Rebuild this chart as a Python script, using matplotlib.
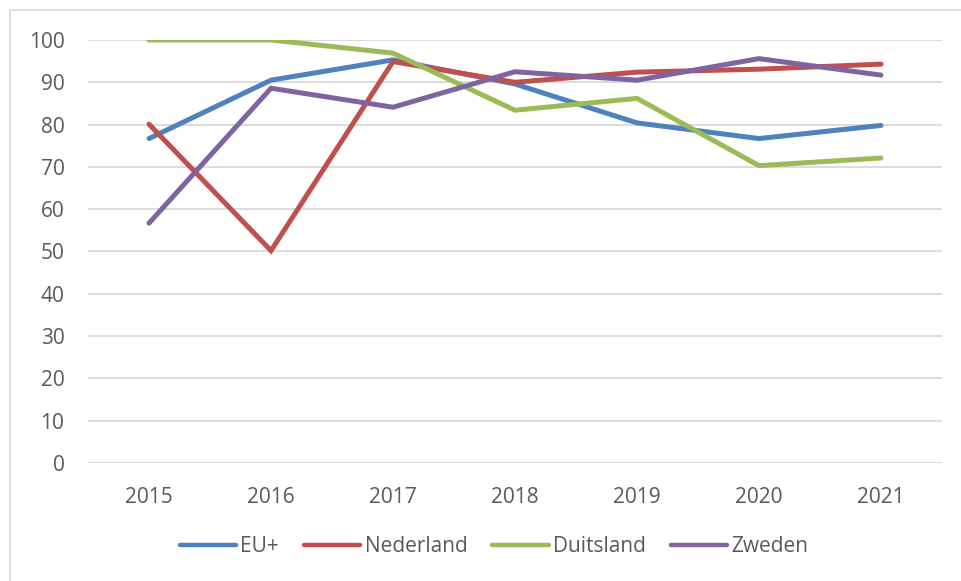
import matplotlib.pyplot as plt
from matplotlib.patches import Rectangle

years = ['2015', '2016', '2017', '2018', '2019', '2020', '2021']
eu_plus = [76.7, 90.5, 95.3, 89.6, 80.4, 76.7, 79.8]
nederland = [80.1, 50.2, 94.9, 90.0, 92.4, 93.1, 94.3]
duitsland = [100, 100, 96.9, 83.4, 86.2, 70.3, 72.1]
zweden = [56.7, 88.6, 84.1, 92.5, 90.5, 95.6, 91.7]

series = [('EU+', eu_plus, '#4F81BD'),
          ('Nederland', nederland, '#C0504D'),
          ('Duitsland', duitsland, '#9BBB59'),
          ('Zweden', zweden, '#8064A2')]

plt.rcParams['font.family'] = ['Open Sans', 'DejaVu Sans']
txt = '#595959'

fig = plt.figure(figsize=(9.61, 5.81), dpi=100)
fig.patches.append(Rectangle((10 / 961, -0.1), 1.1, 1 - 10 / 581 + 0.1,
                             transform=fig.transFigure, fill=False,
                             edgecolor='#D9D9D9', linewidth=1.2))
ax = fig.add_axes([88 / 961, 1 - 463 / 581, (942 - 88) / 961, (463 - 40) / 581])

x = range(len(years))
for name, vals, col in series:
    ax.plot(x, vals, color=col, linewidth=3.6, label=name,
            solid_capstyle='round', solid_joinstyle='miter')

ax.set_xlim(-0.5, len(years) - 0.5)
ax.set_ylim(0, 100)
ax.set_yticks(range(0, 101, 10))
ax.set_xticks(list(x))
ax.set_xticklabels(years)
ax.yaxis.grid(True, color='#D9D9D9', linewidth=1.3)
ax.set_axisbelow(True)
for s in ax.spines.values():
    s.set_visible(False)
ax.tick_params(axis='both', length=0, colors=txt, labelsize=15)
ax.tick_params(axis='y', pad=17)
ax.tick_params(axis='x', pad=17)

leg = fig.legend(loc='center', bbox_to_anchor=(0.514, 1 - 547 / 581), ncol=4,
                 frameon=False, fontsize=15, handlelength=2.7,
                 handletextpad=0.2, columnspacing=1.2)
for t in leg.get_texts():
    t.set_color(txt)
for h in leg.get_lines():
    h.set_linewidth(3.2)

fig.savefig('out.png', dpi=100)
